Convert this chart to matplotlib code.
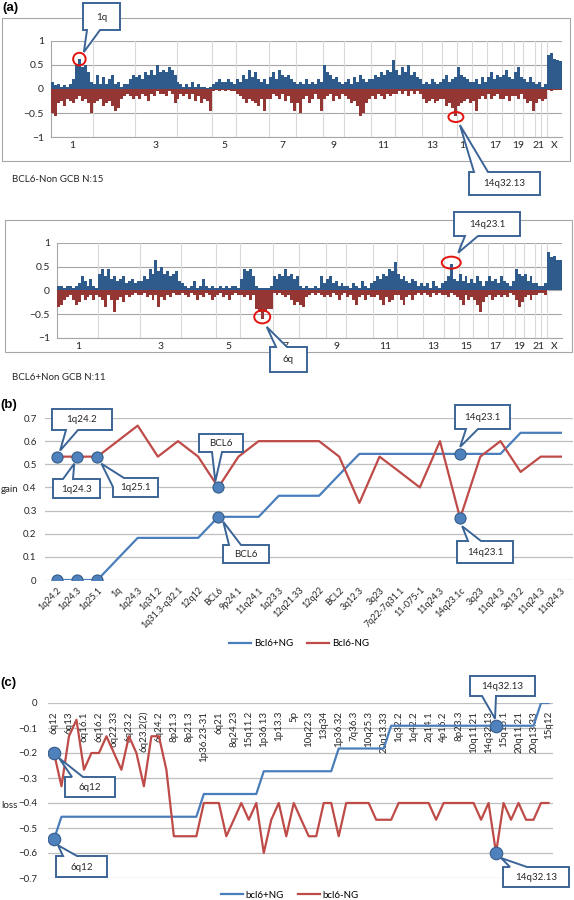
import matplotlib
matplotlib.use('Agg')
import matplotlib.pyplot as plt
import numpy as np
from matplotlib.patches import Rectangle, Ellipse, Polygon

plt.rcParams['font.family'] = ['Lato', 'DejaVu Sans']
plt.rcParams['axes.unicode_minus'] = True

# ---------------- data ----------------
chrom_names = ['1', '2', '3', '4', '5', '6', '7', '8', '9', '10', '11', '12',
               '13', '14', '15', '16', '17', '18', '19', '20', '21', '22', 'X']
chrom_bins = [14, 14, 14, 12, 8, 11, 9, 9, 7, 9, 8, 9, 7, 5, 5, 5, 5, 4, 3, 4, 2, 2, 5]

# BCL6- non GCB (N=15), frequency per genomic bin
gain_nonbcl6 = [
    0.15, 0.08, 0.1, 0.05, 0.08, 0.05, 0.1, 0.2, 0.5, 0.62, 0.45, 0.5, 0.35, 0.15,
    0.1, 0.3, 0.1, 0.25, 0.1, 0.2, 0.3, 0.1, 0.15, 0.05, 0.1, 0.1, 0.2, 0.3,
    0.25, 0.3, 0.2, 0.35, 0.3, 0.4, 0.3, 0.5, 0.35, 0.4, 0.35, 0.45, 0.4, 0.3,
    0.15, 0.1, 0.05, 0.1, 0.05, 0.15, 0.05, 0.1, 0.05, 0.05, 0.03, 0.05,
    0.1, 0.15, 0.2, 0.15, 0.15, 0.2, 0.15, 0.1,
    0.2, 0.15, 0.3, 0.2, 0.4, 0.25, 0.35, 0.2, 0.15, 0.2, 0.1,
    0.25, 0.35, 0.2, 0.4, 0.3, 0.25, 0.3, 0.2, 0.15,
    0.1, 0.15, 0.1, 0.2, 0.1, 0.15, 0.1, 0.2, 0.15,
    0.5, 0.35, 0.3, 0.2, 0.25, 0.15, 0.1,
    0.15, 0.2, 0.1, 0.25, 0.15, 0.3, 0.2, 0.15, 0.2,
    0.2, 0.3, 0.25, 0.35, 0.3, 0.4, 0.35, 0.6,
    0.4, 0.3, 0.45, 0.35, 0.5, 0.3, 0.35, 0.25, 0.2,
    0.1, 0.15, 0.1, 0.2, 0.15, 0.1, 0.15,
    0.2, 0.3, 0.15, 0.2, 0.25,
    0.45, 0.3, 0.25, 0.2, 0.15,
    0.15, 0.2, 0.1, 0.25, 0.15,
    0.25, 0.35, 0.2, 0.3, 0.25,
    0.3, 0.4, 0.25, 0.2,
    0.35, 0.45, 0.25,
    0.2, 0.15, 0.25, 0.15,
    0.1, 0.15,
    0.05, 0.1,
    0.7, 0.74, 0.62, 0.6, 0.58]
loss_nonbcl6 = [
    -0.5, -0.55, -0.3, -0.25, -0.35, -0.2, -0.25, -0.3, -0.2, -0.15, -0.25, -0.2, -0.3, -0.5,
    -0.3, -0.25, -0.2, -0.35, -0.3, -0.25, -0.35, -0.45, -0.4, -0.2, -0.15, -0.1, -0.15, -0.2,
    -0.15, -0.2, -0.1, -0.15, -0.25, -0.1, -0.15, -0.05, -0.1, -0.1, -0.15, -0.05, -0.1, -0.3,
    -0.2, -0.1, -0.15, -0.1, -0.2, -0.1, -0.25, -0.15, -0.3, -0.2, -0.25, -0.45,
    -0.05, -0.03, -0.05, -0.03, -0.05, -0.03, -0.05, -0.05,
    -0.1, -0.15, -0.2, -0.3, -0.2, -0.25, -0.3, -0.35, -0.2, -0.45, -0.2,
    -0.2, -0.1, -0.15, -0.2, -0.1, -0.25, -0.15, -0.3, -0.45,
    -0.3, -0.5, -0.2, -0.15, -0.3, -0.2, -0.1, -0.2, -0.45,
    -0.2, -0.15, -0.1, -0.25, -0.15, -0.2, -0.1,
    -0.15, -0.2, -0.3, -0.25, -0.35, -0.55, -0.5, -0.3, -0.2,
    -0.15, -0.2, -0.1, -0.15, -0.2, -0.1, -0.15, -0.1,
    -0.1, -0.05, -0.1, -0.05, -0.15, -0.05, -0.1, -0.05, -0.1,
    -0.2, -0.3, -0.25, -0.2, -0.3, -0.25, -0.2,
    -0.2, -0.35, -0.3, -0.4, -0.55,
    -0.35, -0.3, -0.25, -0.2, -0.3,
    -0.25, -0.45, -0.2, -0.15, -0.2,
    -0.1, -0.2, -0.15, -0.1, -0.2,
    -0.2, -0.15, -0.25, -0.15,
    -0.15, -0.2, -0.1,
    -0.2, -0.3, -0.25, -0.45,
    -0.3, -0.2,
    -0.25, -0.2,
    -0.02, -0.05, -0.02, -0.02, -0.03]

# BCL6+ non GCB (N=11)
gain_bcl6 = [
    0.1, 0.1, 0.05, 0.1, 0.1, 0.05, 0.1, 0.15, 0.3, 0.2, 0.1, 0.25, 0.1, 0.05,
    0.35, 0.45, 0.3, 0.45, 0.25, 0.3, 0.2, 0.25, 0.3, 0.15, 0.2, 0.25, 0.15, 0.2,
    0.2, 0.3, 0.25, 0.45, 0.35, 0.65, 0.4, 0.5, 0.35, 0.4, 0.3, 0.35, 0.4, 0.2,
    0.15, 0.1, 0.05, 0.1, 0.2, 0.05, 0.1, 0.25, 0.1, 0.05, 0.1, 0.05,
    0.05, 0.1, 0.05, 0.1, 0.05, 0.1, 0.1, 0.05,
    0.25, 0.45, 0.4, 0.45, 0.3, 0.1, 0.05, 0.05, 0.05, 0.05, 0.1,
    0.3, 0.25, 0.35, 0.3, 0.45, 0.3, 0.35, 0.25, 0.3,
    0.1, 0.05, 0.1, 0.05, 0.05, 0.1, 0.05, 0.3, 0.15,
    0.25, 0.3, 0.15, 0.2, 0.1, 0.15, 0.1,
    0.1, 0.05, 0.15, 0.1, 0.05, 0.2, 0.1, 0.05, 0.15,
    0.2, 0.3, 0.25, 0.35, 0.3, 0.45, 0.4, 0.6,
    0.35, 0.25, 0.3, 0.2, 0.15, 0.25, 0.2, 0.1, 0.15,
    0.1, 0.15, 0.05, 0.2, 0.1, 0.05, 0.15,
    0.2, 0.3, 0.55, 0.25, 0.2,
    0.35, 0.2, 0.3, 0.15, 0.25,
    0.15, 0.3, 0.2, 0.1, 0.2,
    0.3, 0.2, 0.25, 0.15, 0.3,
    0.2, 0.15, 0.1, 0.2,
    0.45, 0.35, 0.3,
    0.35, 0.2, 0.3, 0.15,
    0.15, 0.1,
    0.1, 0.15,
    0.8, 0.7, 0.72, 0.65, 0.65]
loss_bcl6 = [
    -0.35, -0.3, -0.2, -0.15, -0.1, -0.2, -0.3, -0.25, -0.1, -0.2, -0.15, -0.1, -0.2, -0.1,
    -0.15, -0.2, -0.35, -0.1, -0.2, -0.45, -0.2, -0.15, -0.25, -0.1, -0.15, -0.1, -0.05, -0.1,
    -0.1, -0.05, -0.15, -0.1, -0.2, -0.1, -0.35, -0.15, -0.2, -0.1, -0.15, -0.05, -0.1, -0.1,
    -0.05, -0.1, -0.15, -0.05, -0.1, -0.2, -0.1, -0.15, -0.05, -0.1, -0.2, -0.15,
    -0.1, -0.05, -0.15, -0.1, -0.2, -0.1, -0.05, -0.1,
    -0.1, -0.15, -0.1, -0.2, -0.1, -0.4, -0.45, -0.6, -0.45, -0.4, -0.4,
    -0.05, -0.1, -0.05, -0.1, -0.15, -0.1, -0.2, -0.3, -0.25,
    -0.3, -0.35, -0.15, -0.1, -0.05, -0.1, -0.05, -0.1, -0.15,
    -0.1, -0.15, -0.05, -0.1, -0.2, -0.1, -0.05,
    -0.15, -0.1, -0.2, -0.3, -0.15, -0.1, -0.2, -0.1, -0.15,
    -0.15, -0.1, -0.2, -0.3, -0.15, -0.25, -0.2, -0.1,
    -0.1, -0.2, -0.3, -0.15, -0.1, -0.2, -0.1, -0.05, -0.1,
    -0.05, -0.1, -0.15, -0.05, -0.1, -0.05, -0.1,
    -0.1, -0.15, -0.05, -0.1, -0.15,
    -0.2, -0.3, -0.1, -0.2, -0.15,
    -0.2, -0.3, -0.45, -0.25, -0.15,
    -0.1, -0.2, -0.15, -0.1, -0.15,
    -0.1, -0.15, -0.05, -0.1,
    -0.2, -0.35, -0.25,
    -0.15, -0.1, -0.2, -0.1,
    -0.1, -0.05,
    -0.05, -0.1,
    0, 0, 0, 0, 0]

# (b) gain frequencies
b_labels = ['1q24.2', '1q24.3', '1q25.1', '1q', '1q24.3', '1q31.2', '1q31.3-q32.1',
            '12q12', 'BCL6', '9p24.1', '11q24.1', '1q23.3', '12q21.33', '12q22',
            'BCL2', '3q12.3', '3q23', '7q22-7q31.1', '11-075-1', '11q24.3',
            '14q23.1c', '3q23', '11q24.3', '3q13.2', '11q24.3', '11q24.3']
gain_pos = [0, 0, 0, 0.091, 0.182, 0.182, 0.182, 0.182, 0.273, 0.273, 0.273, 0.364, 0.364,
            0.364, 0.455, 0.545, 0.545, 0.545, 0.545, 0.545, 0.545, 0.545, 0.545, 0.636,
            0.636, 0.636]
gain_neg = [0.533, 0.533, 0.533, 0.6, 0.667, 0.533, 0.6, 0.533, 0.4, 0.533, 0.6, 0.6, 0.6,
            0.6, 0.533, 0.333, 0.533, 0.467, 0.4, 0.6, 0.267, 0.533, 0.6, 0.467, 0.533,
            0.533]
b_marked = [0, 1, 2, 8, 20]

# (c) loss frequencies
c_labels = ['6q12', '6q13', '6q16.1', '6q16.2', '6q22.33', '6q23.2', '6q23.2(2)', '6q24.2',
            '8p21.3', '8p21.3', '1p36.23-31', '6q21', '8q24.23', '15q11.2', '1p36.13',
            '1p13.3', '5p', '10q22.3', '13q34', '1p36.32', '7q36.3', '10q25.3', '20q13.33',
            '1q32.2', '1q42.2', '2q14.1', '4p16.2', '8p23.3', '10q11.21', '14q32.13',
            '15q15.1', '20q11.21', '20q13.33', '15q12']
loss_pos = [-0.545,
            -0.455, -0.455, -0.455, -0.455, -0.455, -0.455, -0.455, -0.455, -0.455, -0.455,
            -0.455, -0.455, -0.455, -0.455, -0.455, -0.455, -0.455, -0.455, -0.455,
            -0.364, -0.364, -0.364, -0.364, -0.364, -0.364, -0.364, -0.364,
            -0.273, -0.273, -0.273, -0.273, -0.273, -0.273, -0.273, -0.273, -0.273, -0.273,
            -0.182, -0.182, -0.182, -0.182, -0.182, -0.182, -0.182,
            -0.091, -0.091, -0.091, -0.091, -0.091, -0.091, -0.091, -0.091, -0.091, -0.091,
            -0.091, -0.091, -0.091, -0.091, -0.091, -0.091, -0.091, -0.091, -0.091, -0.091,
            0, 0]
loss_neg = [-0.2, -0.333, -0.133, -0.067, -0.267, -0.2, -0.2, -0.133, -0.2, -0.267,
            -0.133, -0.2, -0.333, -0.133, -0.133, -0.267, -0.533, -0.533, -0.533, -0.533,
            -0.4, -0.4, -0.4, -0.533, -0.467, -0.4, -0.467, -0.4, -0.6, -0.467,
            -0.4, -0.533, -0.4, -0.467, -0.533, -0.533, -0.4, -0.4, -0.533, -0.4,
            -0.4, -0.4, -0.4, -0.467, -0.467, -0.467, -0.4, -0.4, -0.4, -0.4,
            -0.4, -0.467, -0.4, -0.4, -0.4, -0.4, -0.4, -0.467, -0.4, -0.6,
            -0.4, -0.467, -0.4, -0.467, -0.467, -0.4, -0.4]
c_marked = [0, 59]

# ---------------- style ----------------
GAIN = '#2E5A8C'
LOSS = '#943634'
BLUE_LINE = '#4A7EBB'
RED_LINE = '#BE4B48'
DOT_FC = '#4F81BD'
DOT_EC = '#385D8A'
CALLOUT = '#3B6496'
GRID = '#BFBFBF'
TXT = '#262626'

W, H = 574.0, 900.0
fig = plt.figure(figsize=(W / 100, H / 100), dpi=100)


def box_axes(l, t, r, b):
    return fig.add_axes([l / W, 1 - b / H, (r - l) / W, (b - t) / H])


ov = fig.add_axes([0, 0, 1, 1], zorder=10)
ov.set_xlim(0, W)
ov.set_ylim(H, 0)
ov.axis('off')
ov.patch.set_alpha(0)


def px(ax, x, y, dx=0, dy=0):
    X, Y = ov.transData.inverted().transform(ax.transData.transform((x, y)))
    return (X + dx, Y + dy)


def callout(text, box, p1, p2, tip):
    x0, y0, x1, y1 = box
    w, h = x1 - x0, y1 - y0
    per = 2 * (w + h)

    def t_of(side, v):
        return {'top': v - x0, 'right': w + (v - y0),
                'bottom': w + h + (x1 - v), 'left': 2 * w + h + (y1 - v)}[side]

    def pt(t):
        t = t % per
        if t < w:
            return (x0 + t, y0)
        if t < w + h:
            return (x1, y0 + t - w)
        if t < 2 * w + h:
            return (x1 - (t - w - h), y1)
        return (x0, y1 - (t - 2 * w - h))

    ta, tb = t_of(*p1), t_of(*p2)
    if (tb - ta) % per > per / 2:
        ta, tb = tb, ta
    end = ta if ta > tb else ta + per
    verts = [pt(tb)]
    for c in [w, w + h, 2 * w + h, per, per + w, per + w + h, per + 2 * w + h]:
        if tb < c < end:
            verts.append(pt(c))
    verts.append(pt(end))
    verts.append(tip)
    ov.add_patch(Polygon(verts, closed=True, fc='white', ec=CALLOUT, lw=1.4,
                         joinstyle='miter'))
    ov.text((x0 + x1) / 2, (y0 + y1) / 2 + 0.5, text, ha='center', va='center',
            fontsize=7, color=TXT)


# ---------------- (a) genome-wide profiles ----------------
edges = np.cumsum(chrom_bins)
starts = edges - np.array(chrom_bins)
centers = starts + np.array(chrom_bins) / 2.0


def genome(ax, gain, loss):
    n = len(gain)
    x = np.arange(n) + 0.5
    ax.bar(x, gain, width=1.0, color=GAIN, linewidth=0, zorder=3)
    ax.bar(x, loss, width=1.0, color=LOSS, linewidth=0, zorder=3)
    for e in edges[:-1]:
        ax.axvline(e, color='#D9D9D9', lw=0.8, zorder=1)
    ax.set_xlim(0, n)
    ax.set_ylim(-1, 1)
    ax.set_yticks([-1, -0.5, 0, 0.5, 1])
    ax.set_yticklabels(['\u22121', '\u22120.5', '0', '0.5', '1'])
    ax.yaxis.grid(True, color='#A6A6A6', lw=0.8, zorder=1)
    ax.set_axisbelow(True)
    ax.set_xticks(centers[::2])
    ax.set_xticklabels(chrom_names[::2])
    ax.tick_params(axis='both', length=0, labelsize=7.5, colors=TXT)
    ax.tick_params(axis='y', pad=5)
    ax.tick_params(axis='x', pad=3)
    for s in ['top', 'right']:
        ax.spines[s].set_visible(False)
    for s in ['left', 'bottom']:
        ax.spines[s].set_color('#A6A6A6')
        ax.spines[s].set_linewidth(0.8)


axa1 = box_axes(51, 40.7, 562, 137.3)
genome(axa1, gain_nonbcl6, loss_nonbcl6)
axa2 = box_axes(57, 243, 562, 337.7)
genome(axa2, gain_bcl6, loss_bcl6)

ov.add_patch(Rectangle((1.5, 18), 568.5, 143, fill=False, ec='#A6A6A6', lw=0.8))
ov.add_patch(Rectangle((5, 220), 567, 132, fill=False, ec='#A6A6A6', lw=0.8))
ov.text(12, 180, 'BCL6-Non GCB N:15', fontsize=7, color=TXT, va='center')
ov.text(12, 377, 'BCL6+Non GCB N:11', fontsize=7, color=TXT, va='center')

# circled regions
chr1 = slice(starts[0], edges[0])
chr14 = slice(starts[13], edges[13])
i1 = starts[0] + int(np.argmax(gain_nonbcl6[chr1]))
i2 = starts[13] + int(np.argmin(loss_nonbcl6[chr14]))
i3 = int(np.argmin(loss_bcl6))
i4 = starts[13] + int(np.argmax(gain_bcl6[chr14]))
circ = [(axa1, i1 + 0.5, gain_nonbcl6[i1], 12.5, 12.5),
        (axa1, i2 + 0.5, loss_nonbcl6[i2] - 0.03, 15, 10),
        (axa2, i3 + 0.5, loss_bcl6[i3] + 0.04, 16, 13),
        (axa2, i4 + 0.5, gain_bcl6[i4] + 0.035, 19, 12)]
for ax, cx, cy, ew, eh in circ:
    ov.add_patch(Ellipse(px(ax, cx, cy), ew, eh, fill=False, ec='#E3140F', lw=1.4))

callout('1q', (83, 3, 120, 30), ('bottom', 87), ('bottom', 100),
        px(axa1, i1 + 0.5, gain_nonbcl6[i1], 4.5, -7))
callout('14q32.13', (469, 172, 540, 195), ('top', 474), ('top', 488),
        px(axa1, i2 + 0.5, loss_nonbcl6[i2] - 0.03, 4, 8))
callout('14q23.1', (454, 212, 520, 236), ('bottom', 465), ('bottom', 478),
        px(axa2, i4 + 0.5, gain_bcl6[i4] + 0.035, 7, -10))
callout('6q', (270, 347, 307, 372), ('top', 276), ('top', 287),
        px(axa2, i3 + 0.5, loss_bcl6[i3] + 0.04, 4.5, 10))

# ---------------- (b) gain ----------------
axb = box_axes(45, 418, 573, 580)
xb = np.arange(len(b_labels))
axb.plot(xb, gain_pos, color=BLUE_LINE, lw=1.6, label='Bcl6+NG', zorder=3)
axb.plot(xb, gain_neg, color=RED_LINE, lw=1.6, label='Bcl6-NG', zorder=3)
for ser in (gain_pos, gain_neg):
    axb.plot(xb[b_marked], np.array(ser)[b_marked], 'o', ms=8, mfc=DOT_FC, mec=DOT_EC,
             mew=0.8, zorder=4)
axb.set_xlim(-0.6, 25.6)
axb.set_ylim(0, 0.7)
axb.set_yticks(np.arange(0, 0.71, 0.1))
axb.set_yticklabels(['0', '0.1', '0.2', '0.3', '0.4', '0.5', '0.6', '0.7'])
axb.yaxis.grid(True, color=GRID, lw=0.9)
axb.set_axisbelow(True)
axb.set_xticks(xb)
axb.set_xticklabels(b_labels, rotation=45, ha='right', rotation_mode='anchor')
axb.tick_params(axis='both', length=0, colors=TXT)
axb.tick_params(axis='y', labelsize=7, pad=6)
axb.tick_params(axis='x', labelsize=6.5, pad=4)
for s in axb.spines.values():
    s.set_visible(False)
axb.legend(loc='center', bbox_to_anchor=(299 / W, 1 - 644 / H),
           bbox_transform=fig.transFigure, ncol=2, frameon=False, fontsize=7,
           handlelength=2.2, handletextpad=0.3, columnspacing=1.5)

callout('1q24.2', (52, 409, 112, 430), ('bottom', 66), ('bottom', 78),
        px(axb, 0, gain_neg[0], 3, -6))
callout('1q24.3', (53, 479, 100, 498), ('top', 63), ('top', 73),
        px(axb, 1, gain_neg[1], -3, 7))
callout('1q25.1', (113, 478, 158, 497), ('left', 487), ('top', 124),
        px(axb, 2, gain_neg[2], 4, 7))
callout('BCL6', (199, 434, 243, 452), ('bottom', 212), ('bottom', 222),
        px(axb, 8, gain_neg[8], -3, -6))
callout('BCL6', (223, 545, 269, 563), ('top', 229), ('top', 241),
        px(axb, 8, gain_pos[8], 5, 5))
callout('14q23.1', (455, 405, 510, 429), ('bottom', 466), ('bottom', 478),
        px(axb, 20, gain_pos[20], 0, -7))
callout('14q23.1', (457, 541, 513, 563), ('top', 468), ('top', 481),
        px(axb, 20, gain_neg[20], 2, 8))

# ---------------- (c) loss ----------------
axc = box_axes(48, 703, 553, 878)
xc = np.arange(len(loss_pos))
axc.plot(xc, loss_pos, color=BLUE_LINE, lw=1.6, label='bcl6+NG', zorder=3)
axc.plot(xc, loss_neg, color=RED_LINE, lw=1.6, label='bcl6-NG', zorder=3)
for ser in (loss_pos, loss_neg):
    axc.plot(xc[c_marked], np.array(ser)[c_marked], 'o', ms=9, mfc=DOT_FC, mec=DOT_EC,
             mew=0.8, zorder=4)
axc.set_xlim(-0.8, 66.6)
axc.set_ylim(-0.7, 0)
axc.set_yticks(np.arange(-0.7, 0.01, 0.1))
axc.set_yticklabels(['\u22120.7', '\u22120.6', '\u22120.5', '\u22120.4', '\u22120.3',
                     '\u22120.2', '\u22120.1', '0'])
axc.yaxis.grid(True, color=GRID, lw=0.9)
axc.set_axisbelow(True)
axc.set_xticks([])
axc.tick_params(axis='y', length=0, labelsize=7, pad=8, colors=TXT)
for s in axc.spines.values():
    s.set_visible(False)
for i, lab in zip(xc[::2], c_labels):
    axc.text(i, -0.032, lab, rotation=90, ha='center', va='top', fontsize=7,
             color=TXT, zorder=2)
axc.legend(loc='center', bbox_to_anchor=(290 / W, 1 - 895 / H),
           bbox_transform=fig.transFigure, ncol=2, frameon=False, fontsize=7,
           handlelength=2.2, handletextpad=0.3, columnspacing=1.5)

callout('6q12', (65, 777, 115, 797), ('top', 72), ('top', 83),
        px(axc, 0, loss_neg[0], 5, 5))
callout('6q12', (56, 856, 107, 877), ('top', 63), ('top', 77),
        px(axc, 0, loss_pos[0], 4, 6))
callout('14q32.13', (470, 676, 535, 696), ('bottom', 482), ('bottom', 496),
        px(axc, 59, loss_pos[59], -1, -7))
callout('14q32.13', (503, 867, 569, 887), ('top', 510), ('top', 527),
        px(axc, 59, loss_neg[59], 5, 5))

# ---------------- panel letters and axis titles ----------------
for xy, lab in [((2, 8), '(a)'), ((0, 405), '(b)'), ((0, 683), '(c)')]:
    ov.text(xy[0], xy[1], lab, fontsize=9.5, fontweight='bold', va='center',
            family=['Liberation Sans', 'DejaVu Sans'], color='black')
ov.text(1, 490, 'gain', fontsize=7, va='center', color=TXT)
ov.text(1, 805, 'loss', fontsize=7, va='center', color=TXT)

fig.savefig('out.png', dpi=100)
